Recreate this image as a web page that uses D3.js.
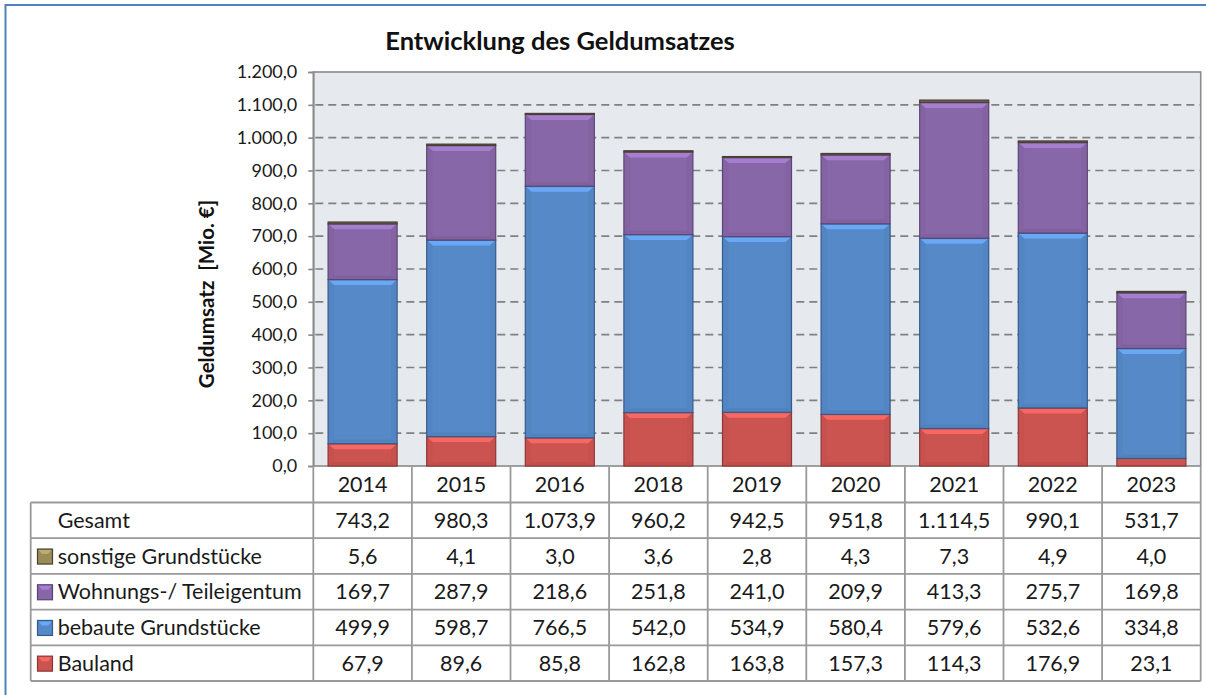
<!DOCTYPE html>
<html><head><meta charset="utf-8">
<script src="https://cdn.jsdelivr.net/npm/d3@7"></script>
<style>
html,body{margin:0;padding:0;background:#fff;}
svg{display:block;font-family:Lato, "Open Sans", sans-serif;}
</style></head>
<body>
<script>
const years = ["2014","2015","2016","2018","2019","2020","2021","2022","2023"];
const bauland  = [67.9, 89.6, 85.8, 162.8, 163.8, 157.3, 114.3, 176.9, 23.1];
const bebaute  = [499.9, 598.7, 766.5, 542.0, 534.9, 580.4, 579.6, 532.6, 334.8];
const wohnung  = [169.7, 287.9, 218.6, 251.8, 241.0, 209.9, 413.3, 275.7, 169.8];
const sonstige = [5.6, 4.1, 3.0, 3.6, 2.8, 4.3, 7.3, 4.9, 4.0];
const gesamt   = [743.2, 980.3, 1073.9, 960.2, 942.5, 951.8, 1114.5, 990.1, 531.7];
const seriesNames = ["Bauland", "bebaute Grundstücke", "Wohnungs-/ Teileigentum", "sonstige Grundstücke"];
const yTicks = [0,100,200,300,400,500,600,700,800,900,1000,1100,1200];
const titleText = "Entwicklung des Geldumsatzes";
const yTitle = "Geldumsatz  [Mio. €]";

const colors = {"Bauland":"#CB5451","bebaute Grundstücke":"#5589C8","Wohnungs-/ Teileigentum":"#8767A7","sonstige Grundstücke":"#9A8C58"};
const strokes = {"Bauland":"#8f3533","bebaute Grundstücke":"#35598a","Wohnungs-/ Teileigentum":"#5a4475","sonstige Grundstücke":"#4a4036"};
const barTopColor = "#6e5f55";

const de = d3.formatLocale({decimal:",", thousands:".", grouping:[3], currency:["","€"]});
const fmt = de.format(",.1f");

const W = 1206, H = 695;
const svg = d3.select("body").append("svg").attr("width", W).attr("height", H);

// outer blue frame
svg.append("rect").attr("x",5.5).attr("y",5).attr("width",1220).attr("height",720)
  .attr("fill","none").attr("stroke","#4F81BD").attr("stroke-width",2);

const L = 313.3, R = 1200.7, T = 72, B = 466;
const y = d3.scaleLinear().domain([0,1200]).range([B,T]);
const xc = d3.scaleBand().domain(years).range([L,R]).padding(0);
const xb = d3.scaleBand().domain(years).range([L,R]).paddingInner(0.3).paddingOuter(0.15);

// plot area
svg.append("rect").attr("x",L).attr("y",T).attr("width",R-L).attr("height",B-T)
  .attr("fill","#E6EAEF").attr("stroke","#8a8a8a").attr("stroke-width",1.6);

// gridlines
svg.append("g").selectAll("line").data(yTicks.filter(d=>d>0 && d<1200)).join("line")
  .attr("x1",L+2).attr("x2",R-1).attr("y1",d=>y(d)).attr("y2",d=>y(d))
  .attr("stroke","#808080").attr("stroke-width",1.6).attr("stroke-dasharray","8,5");

// y axis
const ax = svg.append("g").attr("transform",`translate(${L},0)`)
  .call(d3.axisLeft(y).tickValues(yTicks).tickSize(5).tickPadding(11).tickFormat(fmt));
ax.select(".domain").attr("stroke","#8a8a8a").attr("stroke-width",1.6);
ax.selectAll(".tick line").attr("stroke","#8a8a8a").attr("stroke-width",1.6);
ax.selectAll(".tick text").attr("font-size",18).attr("fill","#1a1a1a").attr("font-family","Lato");

// stacked bars
const rows = years.map((yr,i)=>({year:yr,"Bauland":bauland[i],"bebaute Grundstücke":bebaute[i],"Wohnungs-/ Teileigentum":wohnung[i],"sonstige Grundstücke":sonstige[i]}));
const stack = d3.stack().keys(seriesNames)(rows);
const bars = svg.append("g");
stack.forEach(layer=>{
  const key = layer.key;
  const g = bars.append("g");
  layer.forEach(seg=>{
    const x0 = xb(seg.data.year), w = xb.bandwidth();
    const y0 = y(seg[1]), h = y(seg[0]) - y(seg[1]);
    const fillC = key === "sonstige Grundstücke" ? barTopColor : colors[key];
    g.append("rect").attr("x",x0).attr("y",y0).attr("width",w).attr("height",h)
      .attr("fill",fillC).attr("stroke",strokes[key]).attr("stroke-width",1.2);
    if (h > 8) {
      const hl = d3.color(colors[key]).brighter(0.6);
      g.append("path").attr("d",`M${x0+1},${y0+1}L${x0+w-1},${y0+1}L${x0+w-6},${y0+5.5}L${x0+6},${y0+5.5}Z`)
        .attr("fill",hl.formatHex()).attr("opacity",0.95);
      g.append("path").attr("d",`M${x0+1},${y0+1}L${x0+6},${y0+5.5}L${x0+6},${y0+h-4}L${x0+1},${y0+h-1}Z`)
        .attr("fill",d3.color(colors[key]).darker(0.2).formatHex()).attr("opacity",0.4);
      g.append("path").attr("d",`M${x0+w-1},${y0+1}L${x0+w-6},${y0+5.5}L${x0+w-6},${y0+h-4}L${x0+w-1},${y0+h-1}Z`)
        .attr("fill",d3.color(colors[key]).darker(0.2).formatHex()).attr("opacity",0.4);
      g.append("path").attr("d",`M${x0+1},${y0+h-1}L${x0+6},${y0+h-4}L${x0+w-6},${y0+h-4}L${x0+w-1},${y0+h-1}Z`)
        .attr("fill",d3.color(colors[key]).darker(0.35).formatHex()).attr("opacity",0.45);
    }
  });
});

// title
svg.append("text").attr("x",560).attr("y",50).attr("text-anchor","middle")
  .attr("font-size",25.5).attr("font-weight","bold").attr("fill","#111").text(titleText);

// y title
svg.append("text").attr("transform","translate(214,294) rotate(-90)").attr("text-anchor","middle")
  .attr("font-size",20.5).attr("font-weight","bold").attr("fill","#111")
  .style("white-space","pre").text(yTitle);

// table
const rowH = 35.7;
const tL = 30.7;
const hdrTop = B, hdrBot = B + 36.5;
const fs = 21.5, dyT = 7.6;
const tableRows = [
  {label:"Gesamt", vals:gesamt, key:null},
  {label:"sonstige Grundstücke", vals:sonstige, key:"sonstige Grundstücke"},
  {label:"Wohnungs-/ Teileigentum", vals:wohnung, key:"Wohnungs-/ Teileigentum"},
  {label:"bebaute Grundstücke", vals:bebaute, key:"bebaute Grundstücke"},
  {label:"Bauland", vals:bauland, key:"Bauland"}
];
const tb = svg.append("g");
const lineC = "#9a9a9a", lineW = 1.8;
const tBot = hdrBot + rowH*tableRows.length;
years.forEach((yr,i)=>{
  tb.append("text").attr("x",xc(yr)+xc.bandwidth()/2).attr("y",(hdrTop+hdrBot)/2+dyT)
    .attr("text-anchor","middle").attr("font-size",fs).attr("fill","#1a1a1a").text(yr);
});
tb.append("line").attr("x1",tL).attr("x2",R).attr("y1",hdrBot).attr("y2",hdrBot).attr("stroke",lineC).attr("stroke-width",lineW);
tableRows.forEach((r,j)=>{
  const yb = hdrBot + rowH*(j+1);
  tb.append("line").attr("x1",tL).attr("x2",R).attr("y1",yb).attr("y2",yb).attr("stroke",lineC).attr("stroke-width",lineW);
});
tb.append("line").attr("x1",tL).attr("x2",tL).attr("y1",hdrBot).attr("y2",tBot).attr("stroke",lineC).attr("stroke-width",lineW);
years.forEach(yr=>{
  tb.append("line").attr("x1",xc(yr)).attr("x2",xc(yr)).attr("y1",hdrTop).attr("y2",tBot).attr("stroke",lineC).attr("stroke-width",lineW);
});
tb.append("line").attr("x1",R).attr("x2",R).attr("y1",hdrTop).attr("y2",tBot).attr("stroke",lineC).attr("stroke-width",lineW);

tableRows.forEach((r,j)=>{
  const cy = hdrBot + rowH*j + rowH/2;
  tb.append("text").attr("x",57.7).attr("y",cy+dyT).attr("font-size",fs).attr("fill","#1a1a1a").text(r.label);
  if (r.key) {
    const c = colors[r.key];
    tb.append("rect").attr("x",37.5).attr("y",cy-7).attr("width",15).attr("height",15)
      .attr("fill",c).attr("stroke",strokes[r.key]).attr("stroke-width",1.2);
    tb.append("path").attr("d",`M${38.5},${cy-6}L${51.5},${cy-6}L${48},${cy-2}L${42},${cy-2}Z`)
      .attr("fill",d3.color(c).brighter(0.6).formatHex());
  }
  r.vals.forEach((v,i)=>{
    tb.append("text").attr("x",xc(years[i])+xc.bandwidth()/2).attr("y",cy+dyT)
      .attr("text-anchor","middle").attr("font-size",fs).attr("fill","#1a1a1a").text(fmt(v));
  });
});
</script>
</body></html>
